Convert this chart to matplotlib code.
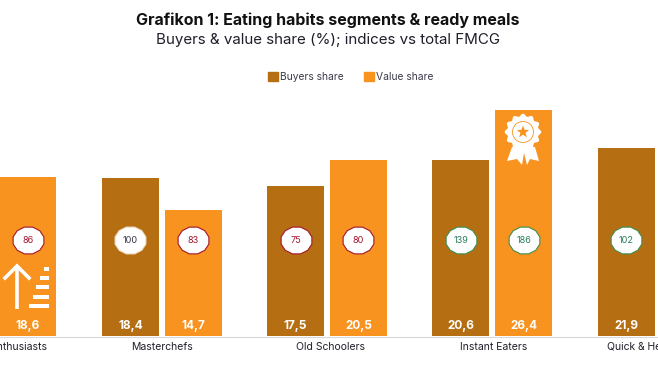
import numpy as np
import matplotlib
matplotlib.use('Agg')
import matplotlib.pyplot as plt
from matplotlib.patches import Patch, Polygon, Circle, Rectangle
from matplotlib.path import Path

# values, nan = bar is cut off by the frame
segments = ['Cooking Enthusiasts', 'Masterchefs', 'Old Schoolers', 'Instant Eaters', 'Quick & Healthy']
buyers_share = [np.nan, 18.4, 17.5, 20.6, 21.9]
value_share = [18.6, 14.7, 20.5, 26.4, np.nan]
buyers_index = [np.nan, 100, 75, 139, 102]
value_index = [86, 83, 80, 186, np.nan]

dark = '#B66E12'
orange = '#F7931E'
text_col = '#1F1F2B'

plt.rcParams['font.family'] = ['Inter', 'DejaVu Sans']

W, H = 658, 370
fig = plt.figure(figsize=(W / 100, H / 100), dpi=100)

# main axes, baseline sits at y=336 px
ax = fig.add_axes([0, (H - 336) / H, 1, 257 / H])
ax.set_xlim(0.0212, 4.003)
ax.set_ylim(0, 30)
ax.axis('off')

x = np.arange(len(segments))
bar_w = 0.345
off = 0.19
ax.bar(x - off, buyers_share, bar_w, color=dark)
ax.bar(x + off, value_share, bar_w, color=orange)

# squashed 12 sided badge
ang = np.linspace(0, 2 * np.pi, 13) + np.pi / 12
badge = Path(np.column_stack([np.cos(ang), 0.87 * np.sin(ang)]), closed=True)


def badge_style(idx):
    if idx > 100:
        return '#3E8E4E', '#2C7F5C'
    if idx == 100:
        return '#F3E3CC', '#3A3A4A'
    return '#A3162E', '#A3162E'


for xs, shares, indices in [(x - off, buyers_share, buyers_index), (x + off, value_share, value_index)]:
    for xi, s, idx in zip(xs, shares, indices):
        if np.isnan(s):
            continue
        ax.text(xi, 1.15, f'{s:.1f}'.replace('.', ','), color='white', fontsize=8.5,
                fontweight='bold', ha='center', va='center')
        edge, tc = badge_style(idx)
        ax.scatter([xi], [11.2], s=490, marker=badge, facecolor='white', edgecolor=edge,
                   linewidth=0.8, zorder=3)
        ax.text(xi, 11.2, str(idx), color=tc, fontsize=6.6, ha='center', va='center', zorder=4)

# overlay in pixel coordinates for text and icons
ov = fig.add_axes([0, 0, 1, 1], facecolor='none')
ov.set_xlim(0, W)
ov.set_ylim(H, 0)
ov.axis('off')

ov.plot([0, W], [336.5, 336.5], color='#D9D9D9', lw=0.8)

# category labels, the two outer ones run off the frame
ov.text(47, 347, segments[0], ha='right', va='center', fontsize=7.5, color=text_col)
ov.text(162, 347, segments[1], ha='center', va='center', fontsize=7.5, color=text_col)
ov.text(330, 347, segments[2], ha='center', va='center', fontsize=7.5, color=text_col)
ov.text(494, 347, segments[3], ha='center', va='center', fontsize=7.5, color=text_col)
ov.text(607, 347, segments[4], ha='left', va='center', fontsize=7.5, color=text_col)

ov.text(328, 20, 'Grafikon 1: Eating habits segments & ready meals', ha='center', va='center',
        fontsize=11.5, fontweight='bold', color='#111111')
ov.text(328, 40, 'Buyers & value share (%); indices vs total FMCG', ha='center', va='center',
        fontsize=10.9, color=text_col)

fig.legend(handles=[Patch(color=dark, label='Buyers share'), Patch(color=orange, label='Value share')],
           ncol=2, loc='center', bbox_to_anchor=(351 / W, 1 - 77 / H), frameon=False, fontsize=7.4,
           handlelength=0.9, handleheight=0.9, handletextpad=0.25, columnspacing=2.0,
           labelcolor='#3A3A4A')

# arrow and stairs icon
ov.plot([17, 17], [309, 267], color='white', lw=2.6, solid_capstyle='butt')
ov.plot([5, 17, 29], [278, 266, 278], color='white', lw=2.6, solid_joinstyle='miter')
for left, top in [(29, 304), (33, 295), (36, 285), (40, 276), (44, 267)]:
    ov.add_patch(Rectangle((left, top), 49 - left, 4, color='white', lw=0))

# rosette icon
cx, cy = 523, 132
t = np.linspace(0, 2 * np.pi, 180)
r = 17 + 1.3 * np.cos(12 * t)
ov.add_patch(Polygon([(512, 147), (507, 161), (517, 159), (522, 165), (524, 153), (527, 165),
                      (530, 159), (539, 161), (535, 147)], color='white', lw=0))
ov.add_patch(Polygon(np.column_stack([cx + r * np.cos(t), cy + r * np.sin(t)]), color='white', lw=0))
ov.add_patch(Circle((cx, cy), 10.5, facecolor='none', edgecolor=orange, lw=0.6))
a = np.arange(10) * np.pi / 5 - np.pi / 2
rs = np.where(np.arange(10) % 2 == 0, 6.5, 2.7)
ov.add_patch(Polygon(np.column_stack([cx + rs * np.cos(a), cy + rs * np.sin(a)]), color=orange, lw=0))

fig.savefig('out.png', dpi=100)
